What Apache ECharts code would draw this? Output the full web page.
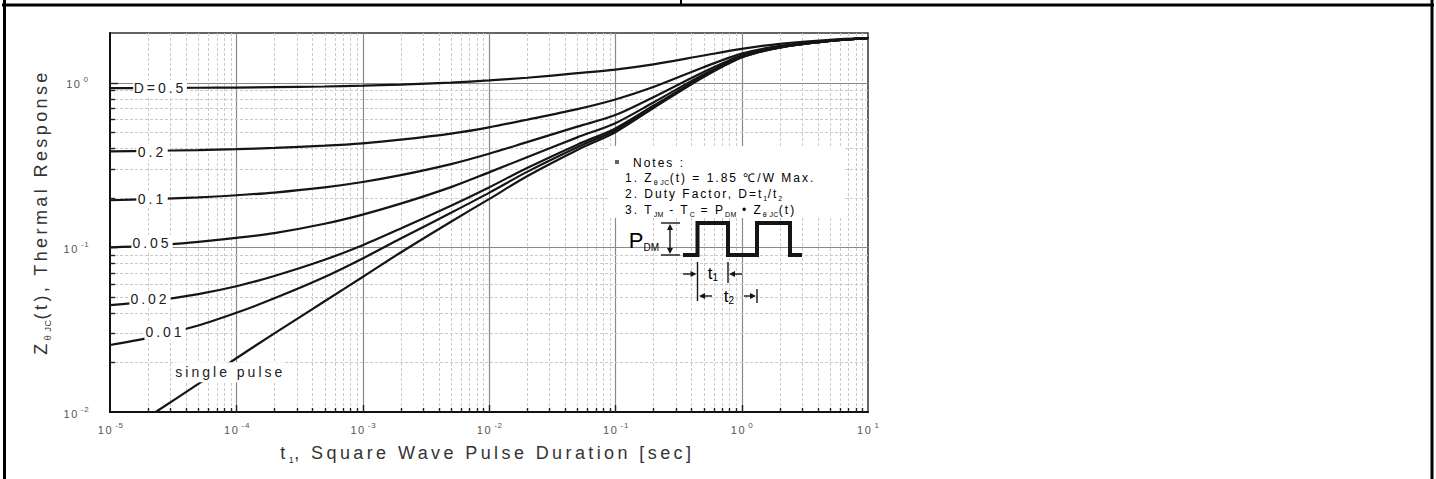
<!DOCTYPE html>
<html>
<head>
<meta charset="utf-8">
<script src="https://cdn.jsdelivr.net/npm/echarts@6/dist/echarts.min.js"></script>
<style>
  html, body { margin: 0; padding: 0; background: #fff; }
  #chart { width: 1436px; height: 479px; }
</style>
</head>
<body>
<div id="chart"></div>
<script>
// Transient thermal response Zth(jc) vs. square-wave pulse duration (log-log)
const pulseTimes = [1e-5, 2e-5, 5e-5, 1e-4, 2e-4, 5e-4, 1e-3, 2e-3, 5e-3, 1e-2, 2e-2, 5e-2, 0.1, 0.2, 0.5, 1, 2, 5, 10];
const zthD050 = [0.925, 0.927, 0.930, 0.933, 0.938, 0.947, 0.958, 0.973, 1.00, 1.03, 1.07, 1.14, 1.20, 1.29, 1.46, 1.60, 1.72, 1.82, 1.86];
const zthD020 = [0.382, 0.385, 0.389, 0.394, 0.401, 0.414, 0.428, 0.450, 0.490, 0.535, 0.595, 0.69, 0.79, 0.94, 1.24, 1.50, 1.67, 1.80, 1.86];
const zthD010 = [0.193, 0.196, 0.201, 0.207, 0.215, 0.231, 0.249, 0.274, 0.320, 0.370, 0.435, 0.54, 0.635, 0.815, 1.16, 1.46, 1.65, 1.79, 1.86];
const zthD005 = [0.100, 0.102, 0.108, 0.114, 0.122, 0.139, 0.158, 0.184, 0.232, 0.285, 0.352, 0.465, 0.567, 0.757, 1.12, 1.44, 1.64, 1.79, 1.86];
const zthD002 = [0.0445, 0.0468, 0.052, 0.058, 0.067, 0.084, 0.103, 0.130, 0.179, 0.231, 0.303, 0.42, 0.527, 0.723, 1.095, 1.43, 1.635, 1.79, 1.86];
const zthD001 = [0.0255, 0.0282, 0.0335, 0.040, 0.049, 0.066, 0.0855, 0.113, 0.162, 0.214, 0.287, 0.405, 0.514, 0.711, 1.088, 1.424, 1.632, 1.79, 1.86];
const singleTimes = [2.3e-5, 5e-5, 1e-4, 2e-4, 5e-4, 1e-3, 2e-3, 5e-3, 1e-2, 2e-2, 5e-2, 0.1, 0.2, 0.5, 1, 2, 5, 10];
const zthSingle = [0.0100, 0.0148, 0.0212, 0.030, 0.047, 0.066, 0.093, 0.143, 0.196, 0.270, 0.390, 0.500, 0.700, 1.08, 1.42, 1.63, 1.79, 1.86];
const curveNames = ['D=0.5', '0.2', '0.1', '0.05', '0.02', '0.01', 'single pulse'];

// Axis decades and tick label exponents
const xTickExponents = [-5, -4, -3, -2, -1, 0, 1];
const yTickExponents = [-2, -1, 0];
const gridMantissas = [1, 2, 3, 4, 5, 6, 7, 8, 9];

const FONT = 'Liberation Sans';
const INK = '#151515';

// letter spacing (px) applied to SVG text, keyed by font size
const spacingBySize = { 18: 3.4, 14: 3, 12: 2, 11: 1.6, 9: 0.6, 8: 0.8, 7: 0.4 };

const chart = echarts.init(document.getElementById('chart'), null, { renderer: 'svg' });

function expOf(v) {
  const e = Math.log10(v);
  const r = Math.round(e);
  return Math.abs(e - r) < 1e-6 ? r : null;
}
function tickLabel(list) {
  return (v) => {
    const e = expOf(v);
    return (e !== null && list.includes(e)) ? '{b|10}{s|' + e + '}' : '';
  };
}
const tickRich = {
  b: { fontSize: 11, fontFamily: FONT, color: '#555', lineHeight: 14, verticalAlign: 'bottom', align: 'left', padding: [0, 3.2, 0, 0] },
  s: { fontSize: 8, fontFamily: FONT, color: '#555', lineHeight: 8, verticalAlign: 'top', align: 'left', padding: [0, 0, 0, 2] }
};

// gridline positions (log decades x mantissa)
const xGridData = [];
for (let e = -5; e <= 0; e++) {
  gridMantissas.forEach(m => {
    if (e === -5 && m === 1) return;
    xGridData.push([m * Math.pow(10, e), 1, m === 1 ? 1 : 0]);
  });
}
const yGridData = [];
for (let e = -2; e <= 0; e++) {
  gridMantissas.forEach(m => {
    const v = m * Math.pow(10, e);
    if ((e === -2 && m === 1) || v >= 2) return;
    yGridData.push([1e-3, v, m === 1 ? 1 : 0]);
  });
}
const majorStyle = { stroke: '#8a8a8a', lineWidth: 1.2 };
const minorStyle = { stroke: '#cacaca', lineWidth: 1, lineDash: [3, 2] };
const tickStyle = { stroke: '#222', lineWidth: 1.4 };

function gridSeries(vertical, data) {
  return {
    type: 'custom', silent: true, z: 1, animation: false,
    dimensions: ['x', 'y', 'major'],
    encode: { x: 0, y: 1 },
    data,
    renderItem: (params, api) => {
      const cs = params.coordSys;
      const major = api.value(2) === 1;
      const p = api.coord([api.value(0), api.value(1)]);
      const len = major ? 7 : 4;
      let line, tick;
      if (vertical) {
        const x = Math.round(p[0]) + 0.5;
        const b = cs.y + cs.height;
        line = { x1: x, y1: cs.y, x2: x, y2: b };
        tick = { x1: x, y1: b, x2: x, y2: b - len };
      } else {
        const y = Math.round(p[1]) + 0.5;
        line = { x1: cs.x, y1: y, x2: cs.x + cs.width, y2: y };
        tick = { x1: cs.x, y1: y, x2: cs.x + len + 1, y2: y };
      }
      return {
        type: 'group',
        children: [
          { type: 'line', shape: line, style: major ? majorStyle : minorStyle },
          { type: 'line', shape: tick, style: tickStyle }
        ]
      };
    }
  };
}

// label anchor per curve: data index, offset, box padding
const labelSpecs = [
  { i: 1, offset: [12, 0], pad: [1, 8] },
  { i: 1, offset: [4, 1], pad: [1, 6] },
  { i: 1, offset: [4, 0], pad: [1, 6] },
  { i: 1, offset: [4, -3], pad: [1, 7] },
  { i: 1, offset: [2, -3], pad: [1, 7] },
  { i: 1, offset: [17, -6], pad: [1, 7] },
  { i: 2, offset: [-6, 14], pad: [3, 18] }
];

function curveSeries(name, times, values, spec) {
  return {
    type: 'line', name, z: 3, silent: true, animation: false,
    smooth: 0.3,
    showSymbol: true, showAllSymbol: true, symbol: 'circle', symbolSize: 1,
    itemStyle: { color: INK },
    lineStyle: { color: INK, width: 2.2 },
    emphasis: { disabled: true },
    label: { show: false },
    data: times.map((t, i) => i === spec.i ? {
      value: [t, values[i]],
      label: {
        show: true, formatter: name, position: 'inside', offset: spec.offset,
        fontFamily: FONT, fontSize: 14, color: '#222',
        backgroundColor: '#fff', padding: spec.pad
      }
    } : [t, values[i]])
  };
}

// rich text builder: tokens flow left to right, each padded by the letter spacing it receives
function spacedRich(parts, base, sub) {
  const rich = {};
  let text = '';
  parts.forEach((p, i) => {
    const isSub = p[1];
    const st = Object.assign({ align: 'left' }, isSub ? sub : base);
    const ls = spacingBySize[st.fontSize] || 0;
    st.padding = [0, i < parts.length - 1 ? +(ls * [...p[0]].length).toFixed(1) : 0, 0, 0];
    rich['k' + i] = st;
    text += '{k' + i + '|' + p[0] + '}';
  });
  return { text, rich };
}

const noteBase = { fontSize: 12, fontFamily: FONT, color: '#444', lineHeight: 16 };
const noteSub = { fontSize: 7, fontFamily: FONT, color: '#444', lineHeight: 8, verticalAlign: 'bottom' };
const note1 = spacedRich([['1. Z', 0], ['θ JC', 1], ['(t) = 1.85 ℃/W Max.', 0]], noteBase, noteSub);
const note2 = spacedRich([['2. Duty Factor, D=t', 0], ['1', 1], ['/t', 0], ['2', 1]], noteBase, noteSub);
const note3 = spacedRich([['3. T', 0], ['JM', 1], [' - T', 0], ['C', 1], [' = P', 0], ['DM', 1], [' • Z', 0], ['θ JC', 1], ['(t)', 0]], noteBase, noteSub);

const titleBase = { fontSize: 18, fontFamily: FONT, color: '#333', lineHeight: 22 };
const titleSub = { fontSize: 9, fontFamily: FONT, color: '#333', lineHeight: 9, verticalAlign: 'bottom' };
const xTitle = spacedRich([['t', 0], ['1', 1], [', Square Wave Pulse Duration [sec]', 0]], titleBase, titleSub);
const yTitle = spacedRich([['Z', 0], ['θ JC', 1], ['(t), Thermal Response', 0]], titleBase, titleSub);

function head(x, y, dir) {
  const L = 6, W = 3;
  const pts = {
    up: [[x, y], [x - W, y + L], [x + W, y + L]],
    down: [[x, y], [x - W, y - L], [x + W, y - L]],
    left: [[x, y], [x + L, y - W], [x + L, y + W]],
    right: [[x, y], [x - L, y - W], [x - L, y + W]]
  }[dir];
  return { type: 'polygon', z: 60, shape: { points: pts }, style: { fill: INK } };
}
function seg(x1, y1, x2, y2, w, color, z) {
  return { type: 'line', z: z || 60, shape: { x1, y1, x2, y2 }, style: { stroke: color || INK, lineWidth: w || 1.4 } };
}
function richText(x, y, rt, align) {
  return { type: 'text', z: 60, style: { x, y, text: rt.text, rich: rt.rich, align: align || 'left', verticalAlign: 'middle' } };
}

const pdm = { text: '{p|P}{d|DM}', rich: {
  p: { fontSize: 22, fontFamily: FONT, color: '#222', lineHeight: 24, align: 'left' },
  d: { fontSize: 10, fontFamily: FONT, color: '#222', lineHeight: 10, verticalAlign: 'bottom', align: 'left' } } };
const tRich = (n) => ({ text: '{t|t}{d|' + n + '}', rich: {
  t: { fontSize: 17, fontFamily: FONT, color: '#222', lineHeight: 19, align: 'left' },
  d: { fontSize: 10, fontFamily: FONT, color: '#222', lineHeight: 10, verticalAlign: 'bottom', align: 'left' } } });

const graphics = [
  // table frame
  seg(2, 5, 1434, 5, 3, '#000', 100),
  seg(4.5, 0, 4.5, 479, 3, '#000', 100),
  seg(1432, 0, 1432, 479, 3, '#000', 100),
  seg(681, 0, 681, 5, 2, '#000', 100),
  // notes panel
  { type: 'rect', z: 20, shape: { x: 609, y: 146, width: 236, height: 72 }, style: { fill: '#fff' } },
  { type: 'rect', z: 60, shape: { x: 615, y: 160, width: 4, height: 4 }, style: { fill: '#666' } },
  richText(633, 163, { text: '{n|Notes :}', rich: { n: Object.assign({ align: 'left' }, noteBase) } }),
  richText(625, 178, note1),
  richText(625, 194, note2),
  richText(625, 210, note3),
  // square wave
  { type: 'polyline', z: 60, shape: { points: [[683, 255], [697.5, 255], [697.5, 223], [728, 223], [728, 255], [757, 255], [757, 223], [790, 223], [790, 255], [802, 255]] },
    style: { stroke: INK, lineWidth: 4, fill: null, lineJoin: 'miter' } },
  // P_DM dimension
  richText(659, 240, pdm, 'right'),
  seg(661, 223, 680, 223), seg(661, 255, 680, 255), seg(670, 229, 670, 249),
  head(670, 224, 'up'), head(670, 254, 'down'),
  // t1 dimension
  seg(697.5, 262, 697.5, 301), seg(728, 262, 728, 283),
  seg(683, 274, 691, 274), head(696.5, 274, 'right'),
  seg(742, 274, 734, 274), head(729, 274, 'left'),
  richText(713, 273, tRich(1), 'center'),
  // t2 dimension
  head(699, 296, 'left'), seg(705, 296, 712, 296),
  seg(744, 296, 750, 296), head(756, 296, 'right'),
  seg(757, 289, 757, 303),
  richText(729, 296, tRich(2), 'center')
];

const seriesValues = [zthD050, zthD020, zthD010, zthD005, zthD002, zthD001];
const series = [gridSeries(true, xGridData), gridSeries(false, yGridData)];
seriesValues.forEach((vals, k) => series.push(curveSeries(curveNames[k], pulseTimes, vals, labelSpecs[k])));
series.push(curveSeries(curveNames[6], singleTimes, zthSingle, labelSpecs[6]));

const option = {
  animation: false,
  backgroundColor: '#fff',
  grid: { left: 110, top: 33, width: 758, height: 379, show: true, borderColor: '#333', borderWidth: 1.5, backgroundColor: 'transparent' },
  xAxis: {
    type: 'log', logBase: 10, min: 1e-5, max: 10,
    axisLine: { show: true, lineStyle: { color: '#111', width: 2 } },
    axisTick: { show: false }, splitLine: { show: false }, minorTick: { show: false },
    axisLabel: { formatter: tickLabel(xTickExponents), rich: tickRich, margin: 9, showMinLabel: true, showMaxLabel: true },
    name: xTitle.text, nameLocation: 'middle', nameGap: 30,
    nameTextStyle: { rich: xTitle.rich, padding: [0, 119, 0, 0] }
  },
  yAxis: {
    type: 'log', logBase: 10, min: 0.01, max: 2,
    axisLine: { show: true, lineStyle: { color: '#111', width: 2 } },
    axisTick: { show: false }, splitLine: { show: false }, minorTick: { show: false },
    axisLabel: { formatter: tickLabel(yTickExponents), rich: tickRich, margin: 22, showMinLabel: true, showMaxLabel: false },
    name: yTitle.text, nameLocation: 'middle', nameGap: 58, nameRotate: 90,
    nameTextStyle: { rich: yTitle.rich, padding: [0, 50, 0, 0] }
  },
  series,
  graphic: { elements: graphics }
};

function applyLetterSpacing() {
  document.querySelectorAll('#chart text').forEach(t => {
    const size = Math.round(parseFloat(getComputedStyle(t).fontSize));
    const ls = spacingBySize[size];
    if (ls) t.style.letterSpacing = ls + 'px';
  });
}
chart.on('finished', applyLetterSpacing);
chart.setOption(option);
applyLetterSpacing();
</script>
</body>
</html>
